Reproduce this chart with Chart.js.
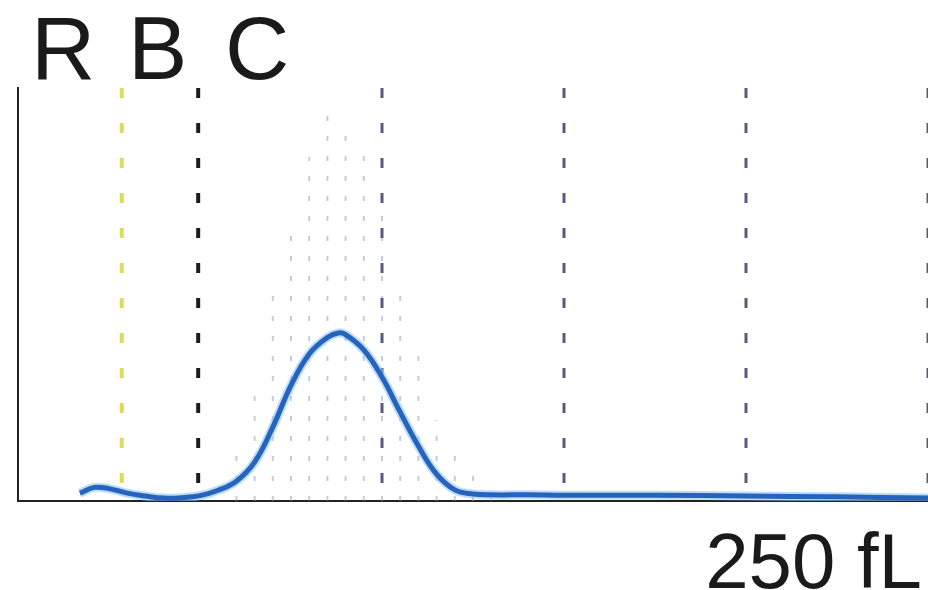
<!DOCTYPE html>
<html>
<head>
<meta charset="utf-8">
<script src="https://cdn.jsdelivr.net/npm/chart.js@4/dist/chart.umd.min.js"></script>
<style>
  html, body { margin: 0; padding: 0; background: #fff; }
  #caja { position: relative; width: 928px; height: 590px; }
  canvas { display: block; }
</style>
</head>
<body>
<div id="caja"><canvas id="histograma" width="928" height="590"></canvas></div>
<script>
// curva RBC (volumen en fL, altura relativa 0-100)
const volumenCurva = [17, 21, 25, 30, 35, 40, 45, 50, 55, 60, 65, 70, 75, 80, 85, 88, 90, 95, 100, 105, 110, 115, 120, 125, 130, 140, 150, 175, 200, 225, 250];
const alturaCurva = [1.9, 3.3, 3.0, 1.9, 1.2, 0.7, 0.8, 1.3, 2.6, 4.8, 9.4, 17.9, 28.0, 35.6, 39.6, 40.7, 40.3, 36.6, 30.0, 21.5, 13.3, 6.5, 2.7, 1.7, 1.5, 1.5, 1.4, 1.4, 1.2, 1.0, 0.7];

// histograma de fondo (líneas punteadas claras)
const volumenBarras = [60, 65, 70, 75, 80, 85, 90, 95, 100, 105, 110, 115, 120, 125, 130];
const alturaBarras = [11.9, 26.9, 52, 66.1, 83.3, 96.4, 90.6, 83.8, 75, 52.8, 36.6, 19.6, 13.3, 6.8, 4.8];

// discriminadores y marcas de referencia
const volumenMarcas = [28.5, 49.5, 100, 150, 200, 250];
const coloresMarcas = ['#dcdc5a', '#1c1c1c', '#5a5a7e', '#5a5a7e', '#5a5a7e', '#5a5a7e'];
const grosorMarcas = [4, 4, 3, 3, 3, 3];

const etiquetaTitulo = ['R', 'B', 'C'];
const etiquetaEje = '250 fL';

const puntosBarras = [];
volumenBarras.forEach((v, i) => {
  puntosBarras.push({ x: v, y: 0 }, { x: v, y: alturaBarras[i] }, { x: v, y: null });
});

const datasetsMarcas = volumenMarcas.map((v, i) => ({
  data: [{ x: v, y: 100 }, { x: v, y: 0 }],
  borderColor: coloresMarcas[i],
  borderWidth: grosorMarcas[i],
  borderDash: [10, 25],
  pointRadius: 0,
  order: 2,
}));

const puntosCurva = volumenCurva.map((v, i) => ({ x: v, y: alturaCurva[i] }));

const textos = {
  id: 'textos',
  afterDraw(chart) {
    const ctx = chart.ctx;
    ctx.save();
    ctx.fillStyle = '#1a1a1a';
    ctx.textBaseline = 'alphabetic';
    ctx.font = '89px "Liberation Sans", Arial, sans-serif';
    ctx.textAlign = 'left';
    const posX = [31, 128, 225];
    etiquetaTitulo.forEach((t, i) => ctx.fillText(t, posX[i], 79));
    ctx.font = '78px "Liberation Sans", Arial, sans-serif';
    ctx.textAlign = 'right';
    ctx.fillText(etiquetaEje, 922, 588);
    ctx.restore();
  }
};

// order: el número mayor se dibuja primero (queda al fondo)
new Chart(document.getElementById('histograma'), {
  type: 'line',
  data: {
    datasets: [
      {
        data: puntosBarras,
        borderColor: 'rgba(130,155,200,0.5)',
        borderWidth: 2,
        borderDash: [5, 15],
        pointRadius: 0,
        spanGaps: false,
        order: 3,
      },
      ...datasetsMarcas,
      {
        data: puntosCurva,
        borderColor: 'rgba(140,200,245,0.6)',
        borderWidth: 9,
        tension: 0.4,
        pointRadius: 0,
        order: 1,
      },
      {
        data: puntosCurva,
        borderColor: '#2763bd',
        borderWidth: 5,
        tension: 0.4,
        pointRadius: 0,
        order: 0,
      },
    ],
  },
  options: {
    responsive: false,
    animation: false,
    layout: { padding: { left: 18, top: 88, right: 0, bottom: 89 } },
    plugins: { legend: { display: false }, tooltip: { enabled: false } },
    scales: {
      x: {
        type: 'linear', min: 0, max: 250,
        ticks: { display: false },
        grid: { display: false, drawTicks: false },
        border: { display: true, color: '#222', width: 2 },
      },
      y: {
        min: 0, max: 100,
        ticks: { display: false },
        grid: { display: false, drawTicks: false },
        border: { display: true, color: '#222', width: 2 },
      },
    },
  },
  plugins: [textos],
});
</script>
</body>
</html>
